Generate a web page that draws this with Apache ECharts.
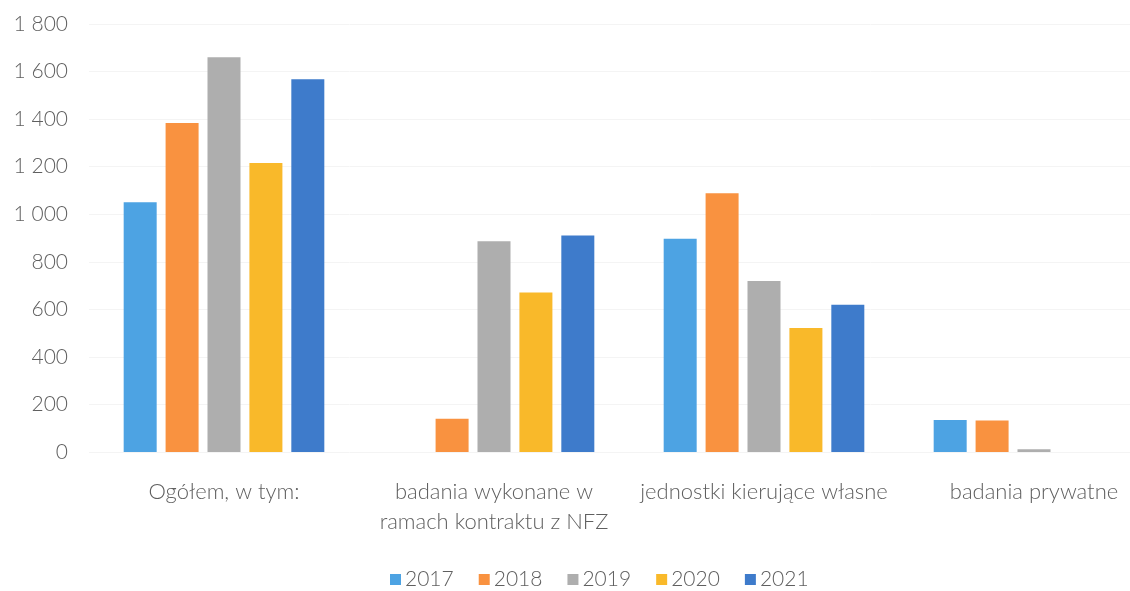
<!DOCTYPE html>
<html>
<head>
<meta charset="utf-8">
<script src="https://cdn.jsdelivr.net/npm/echarts@6/dist/echarts.min.js"></script>
<style>html,body{margin:0;padding:0;background:#fff}#c{width:1130px;height:591px}</style>
</head>
<body>
<div id="c"></div>
<script>
var categories = ["Ogółem, w tym:", "badania wykonane w\nramach kontraktu z NFZ", "jednostki kierujące własne", "badania prywatne"];
var years = ["2017", "2018", "2019", "2020", "2021"];
var v2017 = [1050, 0, 897, 135];
var v2018 = [1384, 140, 1088, 133];
var v2019 = [1660, 886, 719, 12];
var v2020 = [1215, 671, 521, 0];
var v2021 = [1568, 911, 619, 0];
var colors = ["#4DA3E3", "#F99240", "#AEAEAE", "#F9B92A", "#3E7BCB"];
var yTicks = [0, 200, 400, 600, 800, 1000, 1200, 1400, 1600, 1800];

var seriesData = [v2017, v2018, v2019, v2020, v2021];
var font = "Lato, 'DejaVu Sans', sans-serif";
var chart = echarts.init(document.getElementById('c'));
chart.setOption({
  animation: false,
  color: colors,
  textStyle: { fontFamily: font },
  grid: { left: 89, top: 24, width: 1080, height: 428, outerBoundsMode: 'none', containLabel: false },
  legend: {
    data: years,
    left: 385, top: 564,
    itemWidth: 11, itemHeight: 11, itemGap: 25,
    icon: 'rect',
    textStyle: { fontSize: 21, color: '#5f5f5f', fontWeight: 300, fontFamily: font, padding: [0, 0, 0, -1] }
  },
  xAxis: {
    type: 'category',
    data: categories,
    axisLine: { show: false },
    axisTick: { show: false },
    axisLabel: { color: '#5f5f5f', fontSize: 22, fontWeight: 300, margin: 25, lineHeight: 30, fontFamily: font, interval: 0 }
  },
  yAxis: {
    type: 'value',
    min: 0, max: yTicks[yTicks.length - 1], interval: 200,
    axisLine: { show: false },
    axisTick: { show: false },
    splitLine: { show: true, lineStyle: { color: '#f4f4f4', width: 1 } },
    axisLabel: {
      color: '#5f5f5f', fontSize: 21, fontWeight: 300, margin: 21, fontFamily: font,
      formatter: function (v) { return String(v).replace(/\B(?=(\d{3})+(?!\d))/g, ' '); }
    }
  },
  series: years.map(function (y, i) {
    return {
      name: y, type: 'bar', data: seriesData[i],
      barWidth: 33, barGap: '27%',
      itemStyle: { color: colors[i] }
    };
  })
});
</script>
</body>
</html>
